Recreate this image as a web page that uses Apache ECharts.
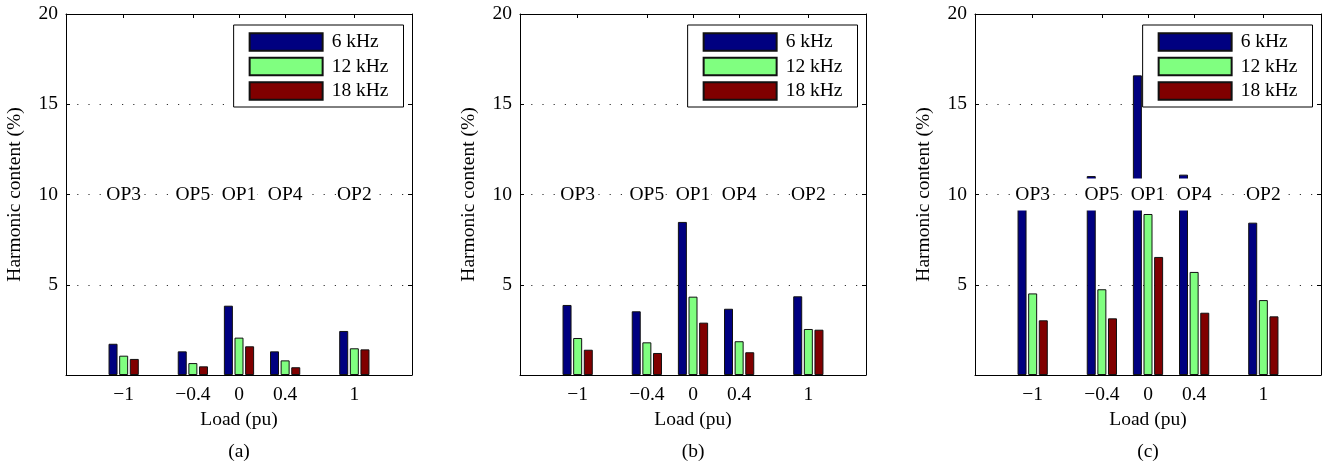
<!DOCTYPE html>
<html>
<head>
<meta charset="utf-8">
<script src="https://cdn.jsdelivr.net/npm/echarts@6/dist/echarts.min.js"></script>
<style>html,body{margin:0;padding:0;background:#fff}#c{width:1325px;height:466px}</style>
</head>
<body>
<div id="c"></div>
<script>
// ---- data ----
const loads = [-1, -0.4, 0, 0.4, 1];
const xTickLabels = ['\u22121', '\u22120.4', '0', '0.4', '1'];
const opLabels = ['OP3', 'OP5', 'OP1', 'OP4', 'OP2'];
const seriesNames = ['6 kHz', '12 kHz', '18 kHz'];
const panelLabels = ['(a)', '(b)', '(c)'];

// panel (a)
const a6  = [1.73, 1.31, 3.84, 1.31, 2.44];
const a12 = [1.07, 0.66, 2.07, 0.81, 1.48];
const a18 = [0.89, 0.48, 1.59, 0.43, 1.42];
// panel (b)
const b6  = [3.88, 3.53, 8.48, 3.67, 4.36];
const b12 = [2.05, 1.81, 4.34, 1.87, 2.55];
const b18 = [1.40, 1.22, 2.90, 1.26, 2.51];
// panel (c)
const c6  = [10.3, 11.02, 16.6, 11.1, 8.44];
const c12 = [4.52, 4.75, 8.92, 5.71, 4.15];
const c18 = [3.03, 3.14, 6.54, 3.45, 3.25];

const panels = [[a6, a12, a18], [b6, b12, b18], [c6, c12, c18]];
const colors = ['#000080', '#80ff80', '#800000'];

// ---- layout ----
const FONT = 'Liberation Serif';
const FS = 19.5;
const gridLeft = [66, 520, 975];
const gridW = 346;
const gridTop = 14;
const gridH = 361;

const grids = [], xAxes = [], yAxes = [], series = [], legends = [], graphics = [];

panels.forEach((vals, g) => {
  grids.push({ left: gridLeft[g], top: gridTop, width: gridW, height: gridH });
  const tickStyle = { show: true, inside: true, length: 4, lineStyle: { color: '#000', width: 1 } };
  xAxes.push({
    type: 'value', gridIndex: g, position: 'bottom', min: -1.5, max: 1.5,
    axisLine: { show: true, onZero: false, lineStyle: { color: '#000', width: 1 } },
    axisTick: Object.assign({ customValues: loads }, tickStyle),
    axisLabel: {
      customValues: loads, margin: 10, color: '#000', fontFamily: FONT, fontSize: FS,
      formatter: v => { const i = loads.findIndex(l => Math.abs(l - v) < 1e-9); return i >= 0 ? xTickLabels[i] : ''; }
    },
    splitLine: { show: false },
    name: 'Load (pu)', nameLocation: 'middle', nameGap: 34,
    nameTextStyle: { color: '#000', fontFamily: FONT, fontSize: FS }
  });
  xAxes.push({
    type: 'value', gridIndex: g, position: 'top', min: -1.5, max: 1.5,
    axisLine: { show: true, onZero: false, lineStyle: { color: '#000', width: 1 } },
    axisTick: Object.assign({ customValues: loads }, tickStyle),
    axisLabel: { show: false }, splitLine: { show: false }
  });
  yAxes.push({
    type: 'value', gridIndex: g, position: 'left', min: 0, max: 20, interval: 5,
    axisLine: { show: true, onZero: false, lineStyle: { color: '#000', width: 1 } },
    axisTick: tickStyle,
    axisLabel: { margin: 8, color: '#000', fontFamily: FONT, fontSize: FS, showMinLabel: false },
    splitLine: { show: true, lineStyle: { color: '#333', width: 1.2, type: [1.2, 10] } },
    name: 'Harmonic content (%)', nameLocation: 'middle', nameGap: 41,
    nameTextStyle: { color: '#000', fontFamily: FONT, fontSize: FS }
  });
  yAxes.push({
    type: 'value', gridIndex: g, position: 'right', min: 0, max: 20, interval: 5,
    axisLine: { show: true, onZero: false, lineStyle: { color: '#000', width: 1 } },
    axisTick: tickStyle, axisLabel: { show: false }, splitLine: { show: false }
  });

  vals.forEach((arr, s) => {
    series.push({
      type: 'bar', name: seriesNames[s], xAxisIndex: 2 * g, yAxisIndex: 2 * g,
      barWidth: 9, barGap: '18%',
      itemStyle: { color: colors[s], borderColor: '#111', borderWidth: 1 },
      data: loads.map((x, i) => [x, arr[i]]),
      z: 2
    });
  });

  series.push({
    type: 'scatter', name: 'op' + g, xAxisIndex: 2 * g, yAxisIndex: 2 * g,
    symbolSize: 0, silent: true, z: 10,
    itemStyle: { opacity: 1 },
    data: loads.map((x, i) => [x, 10]),
    label: {
      show: true, position: 'inside', color: '#000', fontFamily: FONT, fontSize: FS,
      lineHeight: 20, backgroundColor: '#fff', padding: [6, 1], opacity: 1,
      formatter: p => opLabels[p.dataIndex]
    },
    emphasis: { disabled: true }
  });

  legends.push({
    data: seriesNames, orient: 'vertical',
    right: 1325 - (gridLeft[g] + gridW - 8.5), top: 25,
    itemWidth: 73, itemHeight: 17.5, itemGap: 4.5,
    padding: [7, 15, 6, 15],
    borderColor: '#000', borderWidth: 1, backgroundColor: '#fff',
    icon: 'rect', selectedMode: false,
    textStyle: { color: '#000', fontFamily: FONT, fontSize: FS, lineHeight: 17, padding: [0, 0, 0, 4] }
  });

  graphics.push({
    type: 'text', x: gridLeft[g] + gridW / 2, y: 452,
    style: { text: panelLabels[g], font: FS + 'px "' + FONT + '"', fill: '#000', align: 'center', verticalAlign: 'middle' }
  });
});

const chart = echarts.init(document.getElementById('c'), null, { renderer: 'canvas' });
chart.setOption({
  animation: false,
  backgroundColor: '#fff',
  grid: grids, xAxis: xAxes, yAxis: yAxes, series: series,
  legend: legends, graphic: graphics
});
</script>
</body>
</html>
